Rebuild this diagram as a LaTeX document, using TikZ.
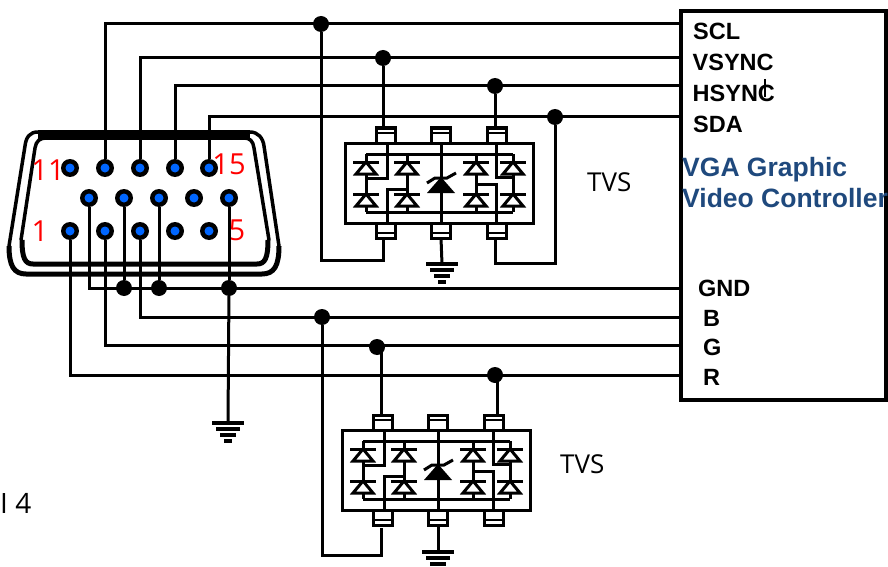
\documentclass[tikz,border=0pt]{standalone}
\usepackage{fontspec}
\setmainfont{Liberation Sans}
\newfontfamily\tvsfont{Open Sans}
\definecolor{pinblue}{HTML}{0066FF}
\definecolor{ctrlblue}{HTML}{1F497D}
\tikzset{
	wire/.style={line width=3pt},
	shell/.style={line width=3.5pt},
	dot/.style={circle,fill=black,inner sep=0pt,minimum size=16pt},
	pin/.style={circle,fill=black,inner sep=0pt,minimum size=18pt,
		path picture={\fill[pinblue] (path picture bounding box.center) circle (4.5pt);}},
	signal/.style={font=\fontsize{23.5}{23.5}\selectfont\bfseries,anchor=west,inner sep=0pt},
	ctrl/.style={font=\fontsize{26.5}{26.5}\selectfont\bfseries,text=ctrlblue,anchor=west,inner sep=0pt},
	pinno/.style={font=\tvsfont\fontsize{29}{29}\selectfont,text=red,inner sep=0pt},
	tvslabel/.style={font=\tvsfont\fontsize{26}{26}\selectfont,anchor=west,inner sep=0pt},
	gnd/.pic={
		\draw [line width=3.3pt] (-16,0) -- (16,0);
		\draw [line width=3.3pt] (-12,6) -- (12,6);
		\draw [line width=3.3pt] (-8,12) -- (8,12);
		\draw [line width=3.3pt] (-4,18) -- (4,18);
	},
	tvs/.pic={
		\draw [line width=3pt] (-94,-40) rectangle (94,40);
		\foreach \px/\pn in {-53.5/1,2/2,58/3} {
			\draw [line width=3pt] (\px-9.5,-40) -- (\px-9.5,-55) -- (\px+9.5,-55) -- (\px+9.5,-40);
			\draw [line width=2.5pt] (\px-9.5,-50) -- (\px+9.5,-50);
			\draw [line width=3pt] (\px-9.5,40) -- (\px-9.5,55) -- (\px+9.5,55) -- (\px+9.5,40);
			\draw [line width=2.5pt] (\px-9.5,50) -- (\px+9.5,50);
			\coordinate (-t\pn) at (\px,-55);
			\coordinate (-b\pn) at (\px,55);
		}
		\draw [line width=3pt] (-73,-29) -- (74,-29);
		\draw [line width=3pt] (-73,29) -- (74,29);
		\foreach \dx in {-73,-32,37,74} {
			\draw [line width=3pt] (\dx,-29) -- (\dx,29);
			\foreach \dy in {-21,11} {
				\draw [line width=3pt,fill=white] (\dx,\dy) -- (\dx-10,\dy+12) -- (\dx+10,\dy+12) -- cycle;
				\draw [line width=3pt] (\dx-13,\dy) -- (\dx+13,\dy);
			}
		}
		\draw [line width=3pt] (-52,-40) -- (-52,-5) -- (-73,-5);
		\draw [line width=3pt] (-52,40) -- (-52,6) -- (-32,6);
		\draw [line width=3pt] (57,-40) -- (57,-6) -- (74,-6);
		\draw [line width=3pt] (57,40) -- (57,1) -- (37,1);
		\draw [line width=3pt] (2,-40) -- (2,40);
		\fill (2,-6) -- (-12,10) -- (16,10) -- cycle;
		\draw [line width=3pt] (-12,0) -- (-4,-5) -- (8,-5) -- (17,-10);
	}
}
\begin{document}
\begin{tikzpicture}[x=1pt,y=-1pt]
	\useasboundingbox (0,0) rectangle (888,567);

	% controller
	\node [draw,line width=3.5pt,minimum width=205pt,minimum height=389pt,inner sep=0pt] (ctrlbox) at (783.5,205.5) {};
	\node [signal] (lscl) at (693,31.5) {SCL};
	\node [signal] (lvs) at (692.5,62.5) {VSYNC};
	\node [signal] (lhs) at (692.5,93.5) {HSYNC};
	\node [signal] (lsda) at (693,124.5) {SDA};
	\node [signal] (lgnd) at (698,288.5) {GND};
	\node [signal] (lb) at (703,318.5) {B};
	\node [signal] (lg) at (703,347.5) {G};
	\node [signal] (lr) at (703,377.5) {R};
	\node [ctrl] (lvga) at (682,170) {VGA Graphic};
	\node [ctrl] (lvid) at (682,198) {Video Controller};
	\draw [line width=2pt] (765,79) -- (765,97);

	\coordinate (scl) at (681,24);
	\coordinate (vs) at (681,58);
	\coordinate (hs) at (681,86);
	\coordinate (sda) at (681,117);
	\coordinate (gndl) at (681,288);
	\coordinate (bl) at (681,317);
	\coordinate (gl) at (681,345);
	\coordinate (rl) at (681,375);

	% connector shell
	\draw [shell] (9,246) -- (25,146) .. controls (26,137) and (30,132) .. (38,132) -- (250,132) .. controls (258,132) and (263,138) .. (264,146) -- (279,246);
	\draw [shell] (21,240) -- (35,148) .. controls (36,141) and (40,138) .. (46,138) -- (244,138) .. controls (250,138) and (253,141) .. (254,148) -- (269,240);
	\draw [line width=10pt] (38,135) -- (250,135);
	\draw [line width=5pt] (9,246) .. controls (9,266) and (14,274) .. (26,274) -- (262,274) .. controls (274,274) and (279,266) .. (279,246);
	\draw [line width=5pt] (22,240) .. controls (22,258) and (25,264) .. (33,264) -- (257,264) .. controls (265,264) and (268,258) .. (268,240);

	\foreach \n/\x in {11/70,12/105,13/140,14/175,15/209}
		\node [pin] (p\n) at (\x,168) {};
	\foreach \n/\x in {6/89,7/124,8/159,9/194,10/229}
		\node [pin] (p\n) at (\x,198) {};
	\foreach \n/\x in {1/70,2/105,3/140,4/175,5/209}
		\node [pin] (p\n) at (\x,231) {};

	\node [pinno] (n11) at (48,170) {11};
	\node [pinno] (n15) at (229,164) {15};
	\node [pinno] (n1) at (40,231) {1};
	\node [pinno] (n5) at (237,230) {5};

	% tvs blocks
	\pic (tvsa) at (439,183) {tvs};
	\pic (tvsb) at (436,470) {tvs};
	\node [tvslabel] (ta) at (587,182) {TVS};
	\node [tvslabel] (tb) at (560,464) {TVS};
	\node [tvslabel,font=\tvsfont\fontsize{28}{28}\selectfont] (fig) at (0,503) {I 4};

	% junctions
	\node [dot] (jscl) at (321,24) {};
	\node [dot] (jvs) at (383,58) {};
	\node [dot] (jhs) at (495,86) {};
	\node [dot] (jsda) at (555,117) {};
	\node [dot] (j7) at (p7 |- gndl) {};
	\node [dot] (j8) at (p8 |- gndl) {};
	\node [dot] (j10) at (p10 |- gndl) {};
	\node [dot] (jb) at (322,317) {};
	\node [dot] (jg) at (377,347) {};
	\node [dot] (jr) at (495,375) {};

	% upper wires
	\draw [wire] (p12) |- (scl);
	\draw [wire] (p13) |- (vs);
	\draw [wire] (p14) |- (hs);
	\draw [wire] (p15) |- (sda);
	\coordinate (aret) at (383,260);
	\coordinate (bret) at (495,263);
	\draw [wire] (jscl) |- (aret) -- (aret |- tvsa-b1);
	\draw [wire] (jsda) |- (bret) -- (bret |- tvsa-b3);
	\draw [wire] (jvs) -- (jvs |- tvsa-t1);
	\draw [wire] (jhs) -- (jhs |- tvsa-t3);
	\pic (gnda) at (442,264) {gnd};
	\draw [wire] (tvsa-b2) -- (442,264);

	% lower wires
	\draw [wire] (p6) |- (gndl);
	\draw [wire] (p7) -- (j7);
	\draw [wire] (p8) -- (j8);
	\draw [wire] (p10) -- (j10);
	\draw [wire] (p3) |- (bl);
	\draw [wire] (p2) |- (gl);
	\draw [wire] (p1) |- (rl);
	\coordinate (cret) at (381,555);
	\draw [wire] (jb) |- (cret) -- (381,528);
	\draw [wire] (381,347) -- (381,415);
	\draw [wire] (497,375) -- (497,415);
	\pic (gndb) at (228,423) {gnd};
	\draw [wire] (j10) -- (228,423);
	\pic (gndc) at (438,552) {gnd};
	\draw [wire] (tvsb-b2) -- (438,552);
\end{tikzpicture}
\end{document}
